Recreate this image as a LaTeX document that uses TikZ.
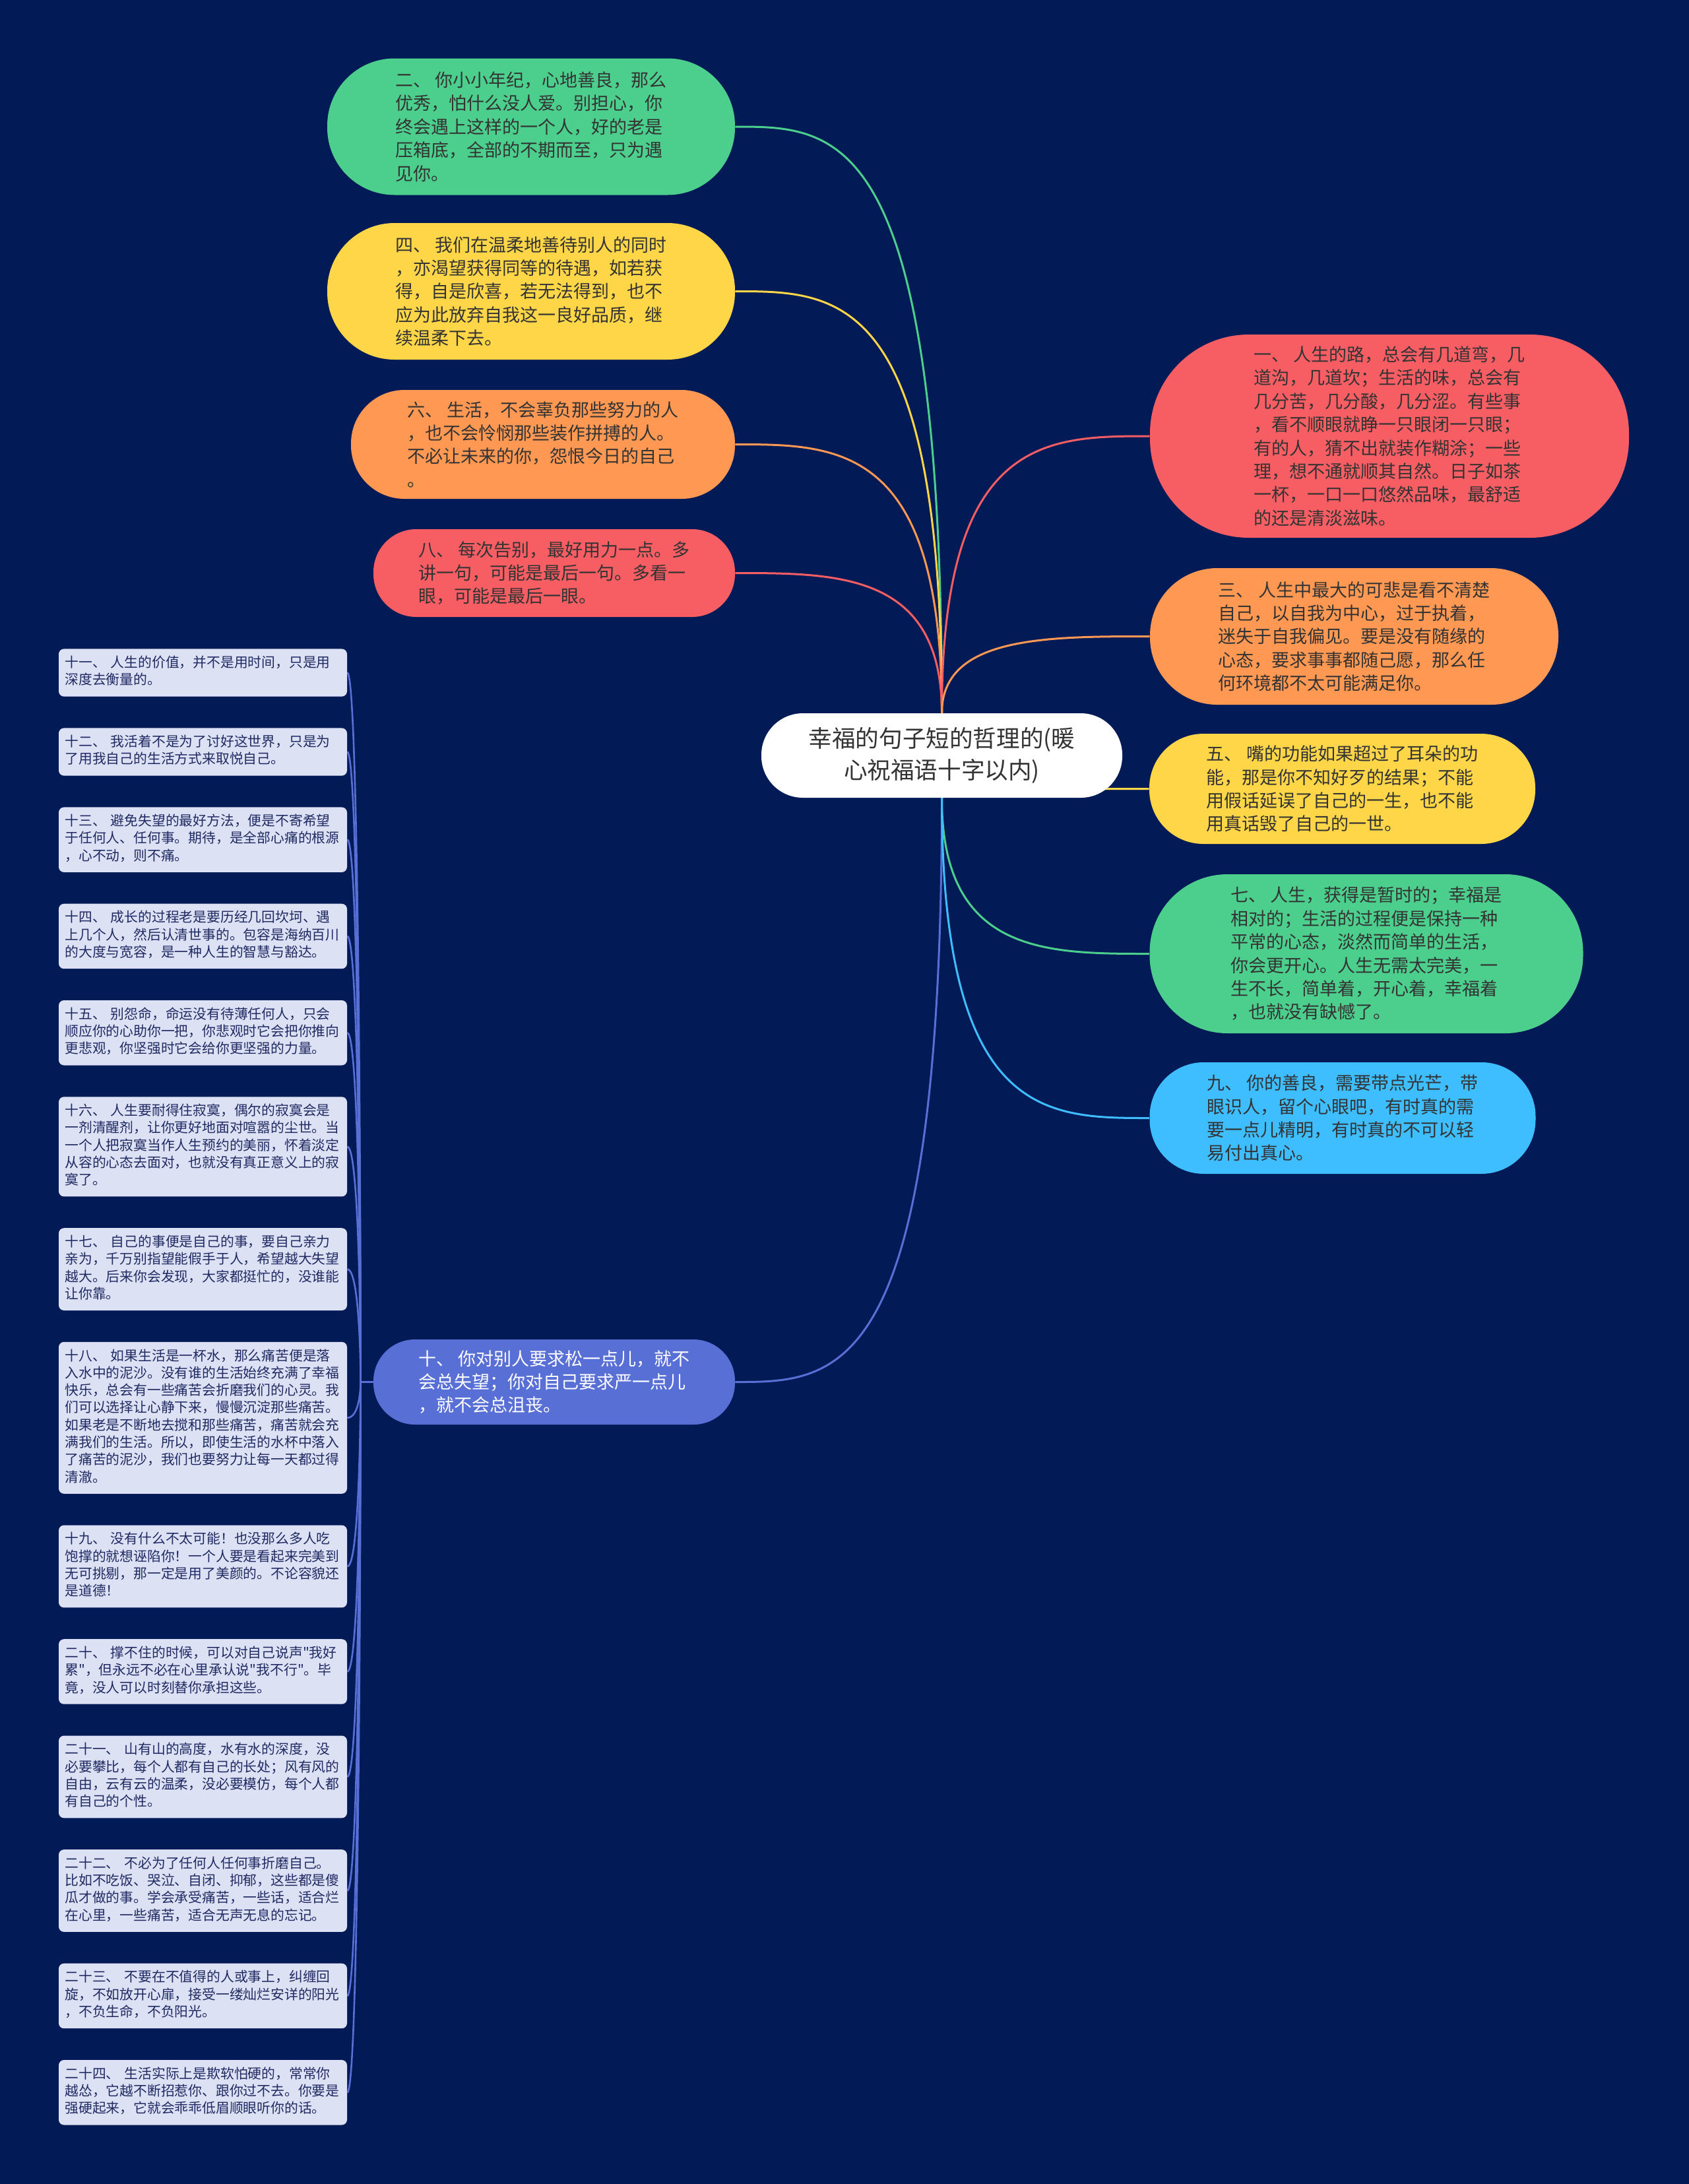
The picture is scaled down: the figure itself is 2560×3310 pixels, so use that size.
\documentclass[tikz,border=0pt]{standalone}
\usepackage{fontspec}
\usepackage{xcolor}
\usepackage{tikz}
\usetikzlibrary{positioning,calc}

\newfontfamily\cjk{Noto Sans CJK SC}

\definecolor{bgnavy}{HTML}{021B57}
\definecolor{leafgreen}{HTML}{4CCE8C}
\definecolor{leafyellow}{HTML}{FFD648}
\definecolor{leaforange}{HTML}{FF9852}
\definecolor{leafred}{HTML}{F65E64}
\definecolor{leafsky}{HTML}{3EBEFF}
\definecolor{leafindigo}{HTML}{586FD6}
\definecolor{notefill}{HTML}{DDE1F4}
\definecolor{notetext}{HTML}{1F2A63}

\pgfdeclarelayer{bg}
\pgfdeclarelayer{edges}
\pgfsetlayers{bg,edges,main}

\begin{document}
\begin{tikzpicture}[
    x=0.5pt, y=-0.5pt,
    hub/.style={font=\cjk\fontsize{17.8pt}{24.3pt}\selectfont, align=center, fill=white, text=black!80, inner sep=0pt},
    leaf/.style={font=\cjk\fontsize{13.5pt}{17.7pt}\selectfont, align=left, text=black!80, inner sep=0pt},
    note/.style={font=\cjk\fontsize{10.4pt}{13.15pt}\selectfont, align=left, text width=209pt,
      fill=notefill, text=notetext, rounded corners=4pt, minimum width=218.5pt,
      inner xsep=4.75pt, inner ysep=4.9pt, execute at begin node=\strut, execute at end node=\strut},
    spoke/.style={line width=1.5pt,
      to path={.. controls (\tikztostart |- \tikztotarget) and ($(\tikztostart |- \tikztotarget)!0.5!(\tikztotarget)$) .. (\tikztotarget)}},
    twig/.style={line width=1.3pt, leafindigo,
      to path={-- ++(-19,0) .. controls +(0,0) and +(20,0) .. (\tikztotarget)}}
  ]
  \useasboundingbox (0,0) rectangle (2560,3310);
  \begin{pgfonlayer}{bg}
    \fill[bgnavy] (0,0) rectangle (2560,3310);
  \end{pgfonlayer}

  \node[hub, minimum width=273.5pt, minimum height=64pt, rounded corners=31.5pt] (root) at (1427.5,1145)
    {幸福的句子短的哲理的(暖\\心祝福语十字以内)};

  \node[leaf, fill=leafgreen, minimum width=309pt, minimum height=103.5pt, rounded corners=51pt] (n2) at (805,192)
    {二、 你小小年纪，心地善良，那么\\优秀，怕什么没人爱。别担心，你\\终会遇上这样的一个人，好的老是\\压箱底，全部的不期而至，只为遇\\见你。};
  \node[leaf, fill=leafyellow, minimum width=309pt, minimum height=103.5pt, rounded corners=51pt] (n4) at (805,441.5)
    {四、 我们在温柔地善待别人的同时\\，亦渴望获得同等的待遇，如若获\\得，自是欣喜，若无法得到，也不\\应为此放弃自我这一良好品质，继\\续温柔下去。};
  \node[leaf, fill=leaforange, minimum width=291pt, minimum height=82.5pt, rounded corners=40.5pt] (n6) at (823,673.5)
    {六、 生活，不会辜负那些努力的人\\，也不会怜悯那些装作拼搏的人。\\不必让未来的你，怨恨今日的自己\\。};
  \node[leaf, fill=leafred, minimum width=274pt, minimum height=66.5pt, rounded corners=32.5pt] (n8) at (840,868.5)
    {八、 每次告别，最好用力一点。多\\讲一句，可能是最后一句。多看一\\眼，可能是最后一眼。};
  \node[leaf, fill=leafindigo, text=white, minimum width=274pt, minimum height=64.5pt, rounded corners=31.5pt] (n10) at (840,2094.5)
    {十、 你对别人要求松一点儿，就不\\会总失望；你对自己要求严一点儿\\，就不会总沮丧。};

  \node[leaf, fill=leafred, minimum width=363pt, minimum height=154pt, rounded corners=75pt] (n1) at (2106,661)
    {一、 人生的路，总会有几道弯，几\\道沟，几道坎；生活的味，总会有\\几分苦，几分酸，几分涩。有些事\\，看不顺眼就睁一只眼闭一只眼；\\有的人，猜不出就装作糊涂；一些\\理，想不通就顺其自然。日子如茶\\一杯，一口一口悠然品味，最舒适\\的还是清淡滋味。};
  \node[leaf, fill=leaforange, minimum width=309.5pt, minimum height=103.5pt, rounded corners=51pt] (n3) at (2052.5,964.5)
    {三、 人生中最大的可悲是看不清楚\\自己，以自我为中心，过于执着，\\迷失于自我偏见。要是没有随缘的\\心态，要求事事都随己愿，那么任\\何环境都不太可能满足你。};
  \node[leaf, fill=leafyellow, minimum width=292.5pt, minimum height=83.5pt, rounded corners=41pt] (n5) at (2034.5,1195.5)
    {五、 嘴的功能如果超过了耳朵的功\\能，那是你不知好歹的结果；不能\\用假话延误了自己的一生，也不能\\用真话毁了自己的一世。};
  \node[leaf, fill=leafgreen, minimum width=328.5pt, minimum height=120.5pt, rounded corners=59pt] (n7) at (2071,1445.5)
    {七、 人生，获得是暂时的；幸福是\\相对的；生活的过程便是保持一种\\平常的心态，淡然而简单的生活，\\你会更开心。人生无需太完美，一\\生不长，简单着，开心着，幸福着\\，也就没有缺憾了。};
  \node[leaf, fill=leafsky, minimum width=292.5pt, minimum height=84.5pt, rounded corners=41pt] (n9) at (2035,1694.5)
    {九、 你的善良，需要带点光芒，带\\眼识人，留个心眼吧，有时真的需\\要一点儿精明，有时真的不可以轻\\易付出真心。};

  \node[note, anchor=north] (n11) at (307.5,983)
    {十一、 人生的价值，并不是用时间，只是用\\深度去衡量的。};
  \node[note, below=23.5pt of n11] (n12)
    {十二、 我活着不是为了讨好这世界，只是为\\了用我自己的生活方式来取悦自己。};
  \node[note, below=23.5pt of n12] (n13)
    {十三、 避免失望的最好方法，便是不寄希望\\于任何人、任何事。期待，是全部心痛的根源\\，心不动，则不痛。};
  \node[note, below=23.5pt of n13] (n14)
    {十四、 成长的过程老是要历经几回坎坷、遇\\上几个人，然后认清世事的。包容是海纳百川\\的大度与宽容，是一种人生的智慧与豁达。};
  \node[note, below=23.5pt of n14] (n15)
    {十五、 别怨命，命运没有待薄任何人，只会\\顺应你的心助你一把，你悲观时它会把你推向\\更悲观，你坚强时它会给你更坚强的力量。};
  \node[note, below=23.5pt of n15] (n16)
    {十六、 人生要耐得住寂寞，偶尔的寂寞会是\\一剂清醒剂，让你更好地面对喧嚣的尘世。当\\一个人把寂寞当作人生预约的美丽，怀着淡定\\从容的心态去面对，也就没有真正意义上的寂\\寞了。};
  \node[note, below=23.5pt of n16] (n17)
    {十七、 自己的事便是自己的事，要自己亲力\\亲为，千万别指望能假手于人，希望越大失望\\越大。后来你会发现，大家都挺忙的，没谁能\\让你靠。};
  \node[note, below=23.5pt of n17] (n18)
    {十八、 如果生活是一杯水，那么痛苦便是落\\入水中的泥沙。没有谁的生活始终充满了幸福\\快乐，总会有一些痛苦会折磨我们的心灵。我\\们可以选择让心静下来，慢慢沉淀那些痛苦。\\如果老是不断地去搅和那些痛苦，痛苦就会充\\满我们的生活。所以，即使生活的水杯中落入\\了痛苦的泥沙，我们也要努力让每一天都过得\\清澈。};
  \node[note, below=23.5pt of n18] (n19)
    {十九、 没有什么不太可能！也没那么多人吃\\饱撑的就想诬陷你！一个人要是看起来完美到\\无可挑剔，那一定是用了美颜的。不论容貌还\\是道德！};
  \node[note, below=23.5pt of n19] (n20)
    {二十、 撑不住的时候，可以对自己说声"我好\\累"，但永远不必在心里承认说"我不行"。毕\\竟，没人可以时刻替你承担这些。};
  \node[note, below=23.5pt of n20] (n21)
    {二十一、 山有山的高度，水有水的深度，没\\必要攀比，每个人都有自己的长处；风有风的\\自由，云有云的温柔，没必要模仿，每个人都\\有自己的个性。};
  \node[note, below=23.5pt of n21] (n22)
    {二十二、 不必为了任何人任何事折磨自己。\\比如不吃饭、哭泣、自闭、抑郁，这些都是傻\\瓜才做的事。学会承受痛苦，一些话，适合烂\\在心里，一些痛苦，适合无声无息的忘记。};
  \node[note, below=23.5pt of n22] (n23)
    {二十三、 不要在不值得的人或事上，纠缠回\\旋，不如放开心扉，接受一缕灿烂安详的阳光\\，不负生命，不负阳光。};
  \node[note, below=23.5pt of n23] (n24)
    {二十四、 生活实际上是欺软怕硬的，常常你\\越怂，它越不断招惹你、跟你过不去。你要是\\强硬起来，它就会乖乖低眉顺眼听你的话。};

  \begin{pgfonlayer}{edges}
    \draw[spoke, leafgreen] (root.north) to (n2.east);
    \draw[spoke, leafyellow] (root.north) to (n4.east);
    \draw[spoke, leaforange] (root.north) to (n6.east);
    \draw[spoke, leafred] (root.north) to (n8.east);
    \draw[spoke, leafindigo] (root.south) to (n10.east);
    \draw[spoke, leafred] (root.north) to (n1.west);
    \draw[spoke, leaforange] (root.north) to (n3.west);
    \draw[spoke, leafyellow] (root.south) to (n5.west);
    \draw[spoke, leafgreen] (root.south) to (n7.west);
    \draw[spoke, leafsky] (root.south) to (n9.west);

    \draw[twig] (n10.west) to (n11.east);
    \draw[twig] (n10.west) to (n12.east);
    \draw[twig] (n10.west) to (n13.east);
    \draw[twig] (n10.west) to (n14.east);
    \draw[twig] (n10.west) to (n15.east);
    \draw[twig] (n10.west) to (n16.east);
    \draw[twig] (n10.west) to (n17.east);
    \draw[twig] (n10.west) to (n18.east);
    \draw[twig] (n10.west) to (n19.east);
    \draw[twig] (n10.west) to (n20.east);
    \draw[twig] (n10.west) to (n21.east);
    \draw[twig] (n10.west) to (n22.east);
    \draw[twig] (n10.west) to (n23.east);
    \draw[twig] (n10.west) to (n24.east);
  \end{pgfonlayer}
\end{tikzpicture}
\end{document}
